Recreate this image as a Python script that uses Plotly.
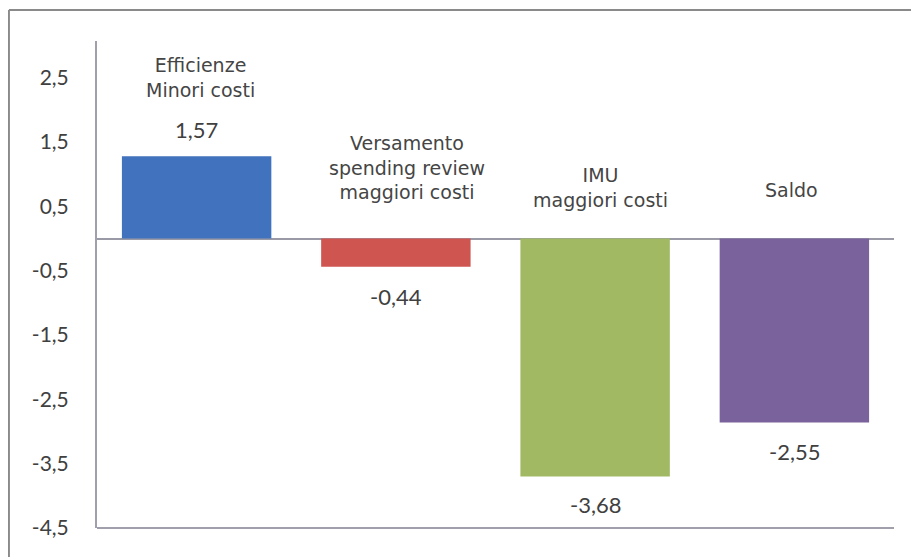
import plotly.graph_objects as go

# Data (bar heights as drawn; labels as printed on the chart)
categories = ["Efficienze<br>Minori costi",
              "Versamento<br>spending review<br>maggiori costi",
              "IMU<br>maggiori costi",
              "Saldo"]
values = [1.28, -0.44, -3.70, -2.86]
value_labels = ["1,57", "-0,44", "-3,68", "-2,55"]
tick_vals = [-4.5, -3.5, -2.5, -1.5, -0.5, 0.5, 1.5, 2.5]
tick_text = ["-4,5", "-3,5", "-2,5", "-1,5", "-0,5", "0,5", "1,5", "2,5"]

colors = ["#4172bd", "#cf5550", "#a2b964", "#7a639c"]
name_pos_y = [2.50, 1.10, 0.79, 0.75]
name_xshift = [4, 11, 5, -3]
val_yshift = [27, -30, -28, -29]

x_idx = [0, 1, 2, 3]

fig = go.Figure()
fig.add_trace(go.Bar(
    x=x_idx, y=values,
    marker=dict(color=colors, line=dict(width=0)),
    width=0.75,
    hoverinfo="skip",
))

annotations = []
for i, (cat, v, lab) in enumerate(zip(categories, values, value_labels)):
    annotations.append(dict(
        x=i, y=name_pos_y[i], xref="x", yref="y", text=cat,
        showarrow=False, xshift=name_xshift[i],
        font=dict(family="DejaVu Sans", size=19, color="#454545"),
        align="center", yanchor="middle",
    ))
    annotations.append(dict(
        x=i, y=v, xref="x", yref="y", text=lab,
        showarrow=False, yshift=val_yshift[i], yanchor="middle",
        font=dict(family="Lato", size=22, color="#404040"),
    ))

fig.update_layout(
    width=919, height=557,
    margin=dict(l=89, r=33, t=33, b=37),
    paper_bgcolor="white", plot_bgcolor="white",
    showlegend=False,
    annotations=annotations,
    xaxis=dict(range=[-0.5, 3.5], showticklabels=False, showgrid=False,
               zeroline=False, showline=False, fixedrange=True),
    yaxis=dict(range=[-4.5, 3.07], tickvals=tick_vals, ticktext=tick_text,
               showgrid=False, zeroline=True, zerolinecolor="#9a9aa6",
               zerolinewidth=2, showline=True, linecolor="#a0a0ac",
               linewidth=2, ticks="", ticklabelstandoff=22,
               tickfont=dict(family="Lato", size=21, color="#404040")),
    shapes=[
        dict(type="line", xref="paper", yref="paper",
             x0=0, x1=1, y0=0, y1=0, line=dict(color="#a0a0ac", width=2)),
        dict(type="line", xref="paper", yref="paper",
             x0=-0.1105, x1=-0.1105, y0=-0.1, y1=1.0637,
             line=dict(color="#8a8a8a", width=2)),
        dict(type="line", xref="paper", yref="paper",
             x0=-0.1105, x1=1.1, y0=1.0637, y1=1.0637,
             line=dict(color="#8a8a8a", width=2)),
    ],
)

fig.write_html("out.html")
